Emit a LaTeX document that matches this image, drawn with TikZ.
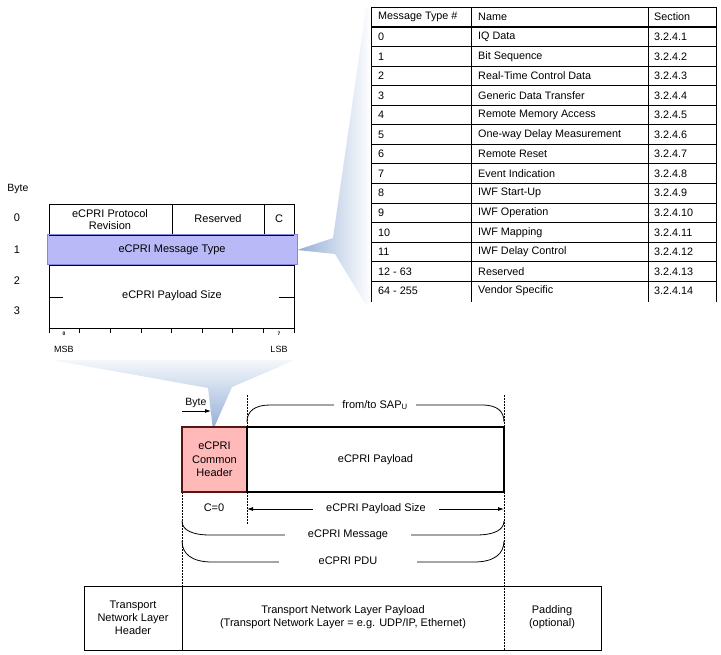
\documentclass[tikz,border=0pt]{standalone}
\usepackage{fontspec}
\setmainfont{Liberation Sans}
\usetikzlibrary{arrows.meta}
\definecolor{calloutblue}{HTML}{93ADD6}
\definecolor{calloutpale}{HTML}{F4F7FB}
\definecolor{msgfill}{HTML}{B9B9F7}
\definecolor{msgedge}{HTML}{8686DA}
\definecolor{hdrfill}{HTML}{FFB9B9}
\definecolor{hdredge}{HTML}{5A1414}
\begin{document}
\begin{tikzpicture}[x=1pt,y=-1pt,
  font=\fontsize{11}{13}\selectfont,
  txt/.style={inner sep=0pt, align=center},
  ltxt/.style={inner sep=0pt, anchor=west},
  thinline/.style={line width=0.8pt},
  thickbox/.style={line width=2pt},
  dotline/.style={line width=0.7pt, dash pattern=on 1.5pt off 1.5pt},
  lbl/.style={fill=white, inner sep=0pt, inner xsep=8pt},
  tip/.style={-{Latex[length=6pt,width=4pt]}},
  tiptwo/.style={{Latex[length=6pt,width=4pt]}-{Latex[length=6pt,width=4pt]}}
]
\useasboundingbox (0,0) rectangle (721,654);

% ---------- callouts ----------
\shade[left color=calloutblue, right color=white, draw=none]
  (297,250) -- (333,238) -- (366,8) -- (371,8) -- (371,305) -- (366,305) -- (335,254) -- cycle;
\shade[top color=calloutpale, bottom color=calloutblue, draw=none]
  (52,360) -- (295,360) -- (232,387) -- (213,430) -- (208,388) -- cycle;

% ---------- message type table ----------
\begin{scope}[font=\fontsize{10.8}{13}\selectfont]
\node[ltxt] (th1) at (378,17) {Message Type \#};
\node[ltxt] (th2) at (478,17) {Name};
\node[ltxt] (th3) at (654,17) {Section};
\foreach \n/\nm/\s [count=\i from 0] in {
  0/IQ Data/3.2.4.1,
  1/Bit Sequence/3.2.4.2,
  2/Real-Time Control Data/3.2.4.3,
  3/Generic Data Transfer/3.2.4.4,
  4/Remote Memory Access/3.2.4.5,
  5/One-way Delay Measurement/3.2.4.6,
  6/Remote Reset/3.2.4.7,
  7/Event Indication/3.2.4.8,
  8/IWF Start-Up/3.2.4.9,
  9/IWF Operation/3.2.4.10,
  10/IWF Mapping/3.2.4.11,
  11/IWF Delay Control/3.2.4.12,
  12 - 63/Reserved/3.2.4.13,
  64 - 255/Vendor Specific/3.2.4.14}{
  \pgfmathsetmacro{\yc}{27+19.55*\i+9.8}
  \node[ltxt] (tn\i) at (378,\yc) {\n};
  \node[ltxt] (tm\i) at (478,\yc) {\nm};
  \node[ltxt] (ts\i) at (654,\yc) {\s};
}
\end{scope}
\draw[thinline] (371,7) -- (716,7);
\draw[line width=1.8pt] (371,27) -- (716,27);
\foreach \k in {1,...,13}{
  \draw[thinline] (371,27+19.55*\k) -- (716,27+19.55*\k);
}
\foreach \xx in {371,471,648,716}{
  \draw[thinline] (\xx,7) -- (\xx,302);
}

% ---------- common header layout ----------
\node[txt, font=\fontsize{10.5}{12}\selectfont] (bytelbl) at (18,189) {Byte};
\node[txt] (b0) at (17,218) {0};
\node[txt] (b1) at (17,250) {1};
\node[txt] (b2) at (17,281) {2};
\node[txt] (b3) at (17,311) {3};

\draw[thinline] (49,333) -- (49,204) -- (294,204) -- (294,333);
\draw[thinline] (172,204) -- (172,235);
\draw[thinline] (264,204) -- (264,235);
\fill[msgfill, draw=msgedge, line width=0.6pt] (47,234) rectangle (297,264);
\draw[thinline] (49,235) -- (294,235);
\draw[thinline] (49,265) -- (294,265);
\draw[thinline] (49,328) -- (294,328);
\foreach \t in {79.6,110.3,140.9,171.5,202.1,232.8,263.4}{
  \draw[thinline] (\t,328) -- (\t,333);
}
\draw[thinline] (49,297) -- (63,297);
\draw[thinline] (279,297) -- (294,297);

\node[txt, font=\fontsize{11}{12.7}\selectfont] (rev) at (110,219.5) {eCPRI Protocol\\Revision};
\node[txt] (res) at (218,219) {Reserved};
\node[txt] (cbit) at (279,219) {C};
\node[txt] (mtype) at (172,250) {eCPRI Message Type};
\node[txt] (psize) at (172,296) {eCPRI Payload Size};
\node[txt, font=\fontsize{5}{6}\bfseries] (bit0) at (64,333.5) {0};
\node[txt, font=\fontsize{5}{6}\bfseries] (bit7) at (279,333.5) {7};
\node[txt, font=\fontsize{9}{10}\selectfont] (msb) at (64,349) {MSB};
\node[txt, font=\fontsize{9}{10}\selectfont] (lsb) at (279,349) {LSB};

% ---------- eCPRI PDU ----------
\draw[dotline] (247,395) -- (247,427);
\draw[dotline] (504,395) -- (504,427);
\draw[dotline] (247,492) -- (247,525);
\draw[dotline] (182,492) -- (182,586);
\draw[dotline] (504,492) -- (504,650);

\node[txt, font=\fontsize{10.5}{12}\selectfont] (bytehd) at (196,403) {Byte};
\coordinate (ba) at (182,411);
\coordinate (bb) at (211,411);
\draw[thinline, tip] (ba) -- (bb);

\node[draw=hdredge, fill=hdrfill, thickbox, minimum width=65pt, minimum height=65pt,
  inner sep=0pt, align=center, font=\fontsize{11}{13.3}\selectfont] (hdr) at (214.5,459.5)
  {eCPRI\\Common\\Header};
\node[draw, thickbox, minimum width=257pt, minimum height=65pt, inner sep=0pt] (pay)
  at (375.5,459.5) {eCPRI Payload};

% from/to SAP brace
\draw[thinline] (247,422) .. controls (247,411) and (255,405) .. (270,405) -- (482,405)
  .. controls (497,405) and (504,411) .. (504,422);
\node[lbl] (sap) at (375,405) {from/to SAP\textsubscript{U}};

% C=0 and payload size
\node[txt] (c0) at (214,508) {C=0};
\coordinate (psl) at (247,509);
\coordinate (psr) at (504,509);
\draw[thinline, tiptwo] (psl) -- (psr);
\node[lbl, inner xsep=13pt] (psz) at (376,509) {eCPRI Payload Size};

% eCPRI Message brace
\draw[thinline] (182,521) .. controls (182,530) and (192,535) .. (210,535) -- (476,535)
  .. controls (494,535) and (504,530) .. (504,521);
\node[lbl, inner xsep=23pt] (msg) at (348,535) {eCPRI Message};

% eCPRI PDU brace
\draw[thinline] (182,541) .. controls (182,554) and (192,562) .. (212,562) -- (474,562)
  .. controls (494,562) and (504,554) .. (504,541);
\node[lbl, inner xsep=40pt] (pdu) at (348,561) {eCPRI PDU};

% ---------- transport row ----------
\draw[thinline] (84,586) rectangle (601,650);
\draw[thinline] (182,586) -- (182,650);
\node[txt] (tnlh) at (133,618) {Transport\\Network Layer\\Header};
\node[txt] (tnlp) at (343,617) {Transport Network Layer Payload\\(Transport Network Layer = e.g. UDP/IP, Ethernet)};
\node[txt] (padd) at (552,617) {Padding\\(optional)};
\end{tikzpicture}
\end{document}
